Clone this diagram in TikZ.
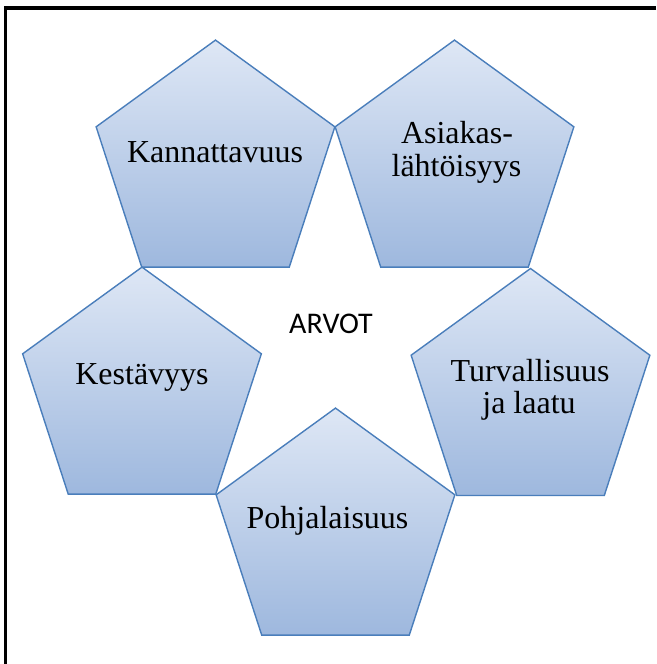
\documentclass[tikz,border=0pt]{standalone}
\usepackage{fontspec}
\setmainfont{Liberation Serif}
\newfontfamily\labelsans{Carlito}
\usetikzlibrary{shapes.geometric}
\definecolor{penttop}{RGB}{222,231,245}
\definecolor{pentbot}{RGB}{158,184,222}
\definecolor{pentline}{RGB}{74,126,187}
\begin{document}
\begin{tikzpicture}[x=1pt,y=-1pt,
  pent/.style={regular polygon, regular polygon sides=5, minimum size=251pt,
    inner sep=0pt, outer sep=0pt, draw=pentline, line width=1.4pt,
    top color=penttop, bottom color=pentbot},
  word/.style={anchor=base, font=\fontsize{32}{33}\selectfont, inner sep=0pt},
  frameline/.style={line width=3.5pt, black}]
\useasboundingbox (0,0) rectangle (656,664);
% frame (top and left edges)
\coordinate (ftr) at (656,8);
\coordinate (ftl) at (5.5,8);
\coordinate (fbl) at (5.5,664);
\draw[frameline] (ftr) -- (ftl) -- (fbl);
% the five value pentagons
\node[pent] (p1) at (215.5,165.6) {};
\node[pent] (p2) at (454.5,165.6) {};
\node[pent] (p3) at (142,392.6) {};
\node[pent] (p4) at (335.5,533.6) {};
\node[pent] (p5) at (530.5,394) {};
% labels
\node[word] (t1) at (215,162) {Kannattavuus};
\node[word] (t2a) at (457,143) {Asiakas-};
\node[word] (t2b) at (456.5,176) {lähtöisyys};
\node[word] (t3) at (142,384) {Kestävyys};
\node[word] (t4) at (327.5,528) {Pohjalaisuus};
\node[word] (t5a) at (530,381) {Turvallisuus};
\node[word] (t5b) at (529,413) {ja laatu};
\node[anchor=base, inner sep=0pt, font=\labelsans\fontsize{30}{30}\selectfont] (arvot) at (331,333) {ARVOT};
\end{tikzpicture}
\end{document}
